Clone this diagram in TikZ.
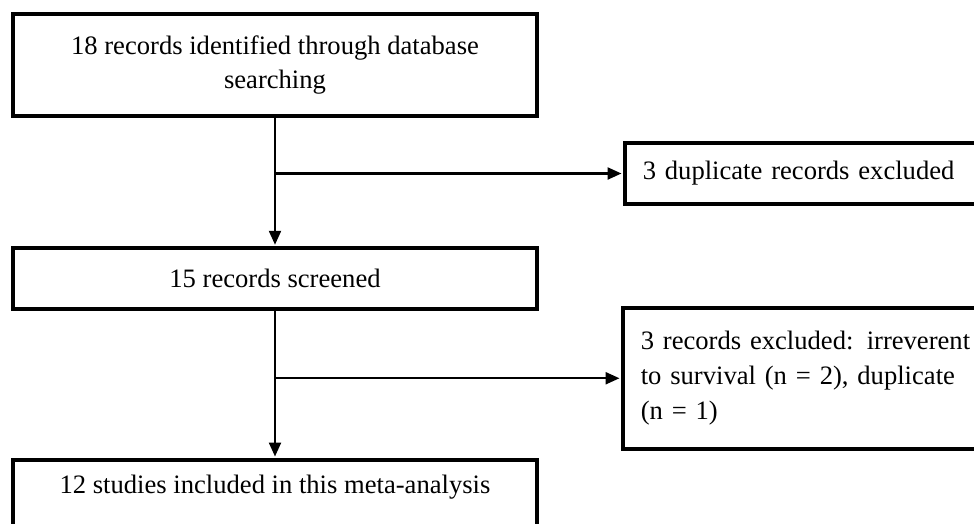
\documentclass[tikz,border=0pt]{standalone}
\usepackage{fontspec}
\setmainfont{Liberation Serif}
\usetikzlibrary{arrows.meta}
\begin{document}
\begin{tikzpicture}[x=1pt,y=1pt,
  box/.style={draw=black, line width=3.5pt, inner sep=0pt, font=\fontsize{26.6}{34}\selectfont},
  conn/.style={line width=2.3pt, -{Triangle[length=14pt,width=12pt]}, shorten >=1.5pt}]
\useasboundingbox (0,0) rectangle (974,-523);
\clip (0,0) rectangle (974,-523);
\node[box, minimum width=524pt, minimum height=102pt, align=center] (b1) at (275,-65)
  {18 records identified through database\\searching};
\node[box, minimum width=524pt, minimum height=61pt] (b2) at (275,-278.5)
  {15 records screened};
\node[box, minimum width=524pt, anchor=north, inner ysep=10pt, text height=24pt, text depth=80pt] (b3) at (275,-458)
  {12 studies included in this meta-analysis};
\node[box, anchor=west, inner xsep=18pt, minimum height=61pt, text width=334pt, align=left] (r1) at (623,-173.5)
  {3 duplicate records excluded};
\node[box, anchor=north west, inner xsep=18pt, minimum height=141pt, text width=328pt, align=left,
  font=\fontsize{26.6}{35}\selectfont] (r2) at (621,-306)
  {\makebox[328pt][s]{3 records excluded: irreverent}\\
   \makebox[328pt][s]{to survival (n = 2), duplicate}\\
   (n = 1)};
\coordinate (j1) at (b1.south |- r1.west);
\coordinate (j2) at (b2.south |- r2.west);
\draw[conn] (b1.south) -- (b2.north);
\draw[conn] (j1) -- (r1.west);
\draw[conn] (b2.south) -- (b3.north);
\draw[conn] (j2) -- (r2.west);
\end{tikzpicture}
\end{document}
